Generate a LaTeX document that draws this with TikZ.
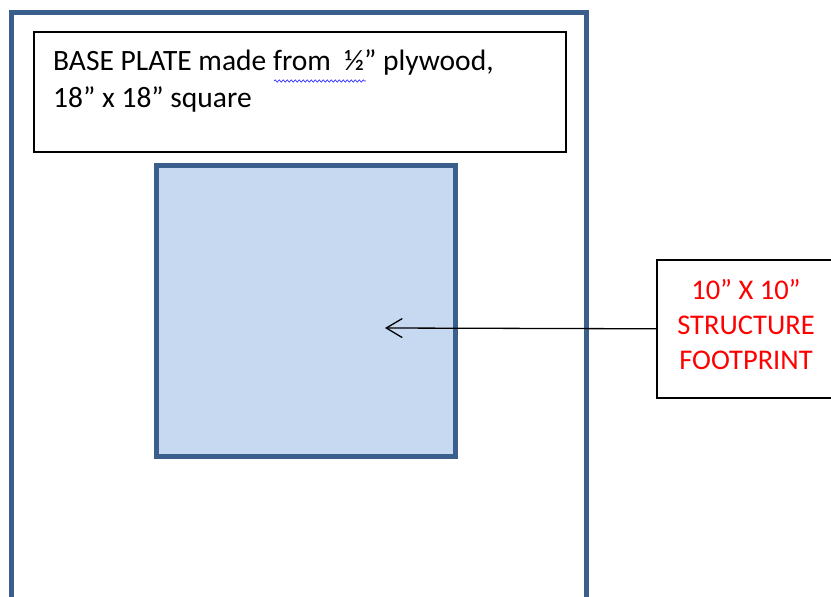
\documentclass[tikz,border=0pt]{standalone}
\usepackage{fontspec}
\setmainfont{Carlito}
\usetikzlibrary{arrows.meta,decorations.pathmorphing}
\definecolor{frameblue}{HTML}{3A5F8C}
\definecolor{fillblue}{HTML}{C6D9F0}
\definecolor{labred}{HTML}{FF0000}
\tikzset{
  plate/.style={draw=frameblue,line width=5.5pt},
  footprint/.style={draw=frameblue,fill=fillblue,line width=5pt},
  textbox/.style={draw=black,line width=1.6pt,rectangle,inner sep=0pt},
  bodytext/.style={font=\fontsize{29.5}{36}\selectfont,align=left,inner sep=0pt},
  redtext/.style={font=\fontsize{28.5}{35}\selectfont,text=labred,align=center,inner sep=0pt},
  squiggle/.style={draw=blue!80!white,line width=0.7pt,decorate,decoration={snake,amplitude=1.2pt,segment length=4pt}},
  pointer/.style={draw=black,line width=1.3pt,-{Straight Barb[length=16pt,width=19pt,line width=1.3pt]}}
}
\begin{document}
\begin{tikzpicture}[x=1pt,y=-1pt]
\useasboundingbox (0,0) rectangle (831,597);
\clip (0,0) rectangle (831,597);
\fill[white] (0,0) rectangle (831,597);
% outer base plate (bottom edge beyond the picture)
\draw[plate] (11.7,640) -- (11.7,12.5) -- (586.7,12.5) -- (586.7,640);
% title box
\node[textbox,minimum width=532pt,minimum height=120pt,anchor=north west] (box) at (33,31) {};
\node[bodytext,anchor=north west] (title) at (53,50) {BASE PLATE made from\ \ ½” plywood,\\18” x 18” square};
\draw[squiggle] (274,81) -- (366,81);
% footprint square
\node[footprint,rectangle,minimum width=299pt,minimum height=291pt,anchor=north west,inner sep=0pt] (foot) at (154,162.5) {};
\coordinate (tip) at (385,328);
% label box
\node[textbox,minimum width=175pt,minimum height=138pt,anchor=north west] (lab) at (656,259) {};
\node[redtext] (labtext) at (746,325) {10” X 10”\\STRUCTURE\\FOOTPRINT};
\draw[pointer] (lab.west) -- (tip);
\end{tikzpicture}
\end{document}
